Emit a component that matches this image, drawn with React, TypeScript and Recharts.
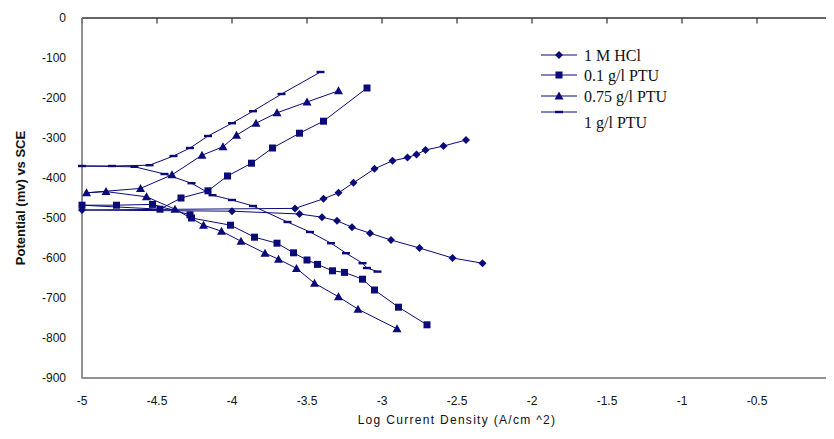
import React from "react";
import { LineChart, Line, XAxis, YAxis } from "recharts";

// Log current density (x) vs potential in mV (y)
const HCL_X = [-2.33, -2.53, -2.75, -2.94, -3.08, -3.2, -3.3, -3.4, -3.55, -4.0, -5.0, -3.58, -3.39, -3.29, -3.19, -3.05, -2.93, -2.83, -2.77, -2.71, -2.59, -2.44];
const HCL_Y = [-613, -600, -575, -555, -538, -523, -507, -498, -490, -483, -480, -476, -452, -437, -412, -377, -357, -349, -341, -330, -320, -305];

const PTU01_X = [-2.7, -2.89, -3.05, -3.13, -3.25, -3.33, -3.43, -3.5, -3.59, -3.7, -3.85, -4.01, -4.27, -4.28, -4.53, -4.77, -5.0, -4.48, -4.34, -4.16, -4.03, -3.87, -3.73, -3.55, -3.39, -3.1];
const PTU01_Y = [-767, -723, -680, -653, -636, -632, -616, -605, -587, -563, -548, -518, -500, -492, -466, -468, -468, -478, -450, -432, -395, -363, -325, -288, -258, -175];

const PTU075_X = [-2.9, -3.16, -3.29, -3.45, -3.57, -3.69, -3.78, -3.94, -4.07, -4.19, -4.38, -4.57, -4.84, -4.97, -4.61, -4.4, -4.2, -4.06, -3.97, -3.84, -3.7, -3.5, -3.29];
const PTU075_Y = [-777, -728, -697, -663, -626, -603, -588, -558, -533, -518, -478, -447, -434, -437, -426, -392, -343, -322, -293, -263, -237, -210, -182];

const PTU1_X = [-3.03, -3.1, -3.13, -3.24, -3.34, -3.48, -3.63, -3.86, -4.0, -4.13, -4.27, -4.45, -4.65, -5.0, -4.8, -4.55, -4.39, -4.28, -4.16, -4.0, -3.86, -3.67, -3.41];
const PTU1_Y = [-634, -625, -613, -588, -563, -535, -510, -470, -455, -443, -413, -390, -372, -370, -370, -368, -345, -325, -295, -263, -233, -190, -135];

const X_TICKS = [-5, -4.5, -4, -3.5, -3, -2.5, -2, -1.5, -1, -0.5, 0];
const Y_TICKS = [0, -100, -200, -300, -400, -500, -600, -700, -800, -900];
const X_MIN = -5;
const X_MAX = 0;
const Y_MIN = -900;
const Y_MAX = 0;

const NAMES = ["1 M HCl", "0.1 g/l PTU", "0.75 g/l PTU", "1 g/l PTU"];
const SHAPES = ["diamond", "square", "triangle", "dash"];

const NAVY = "#0a0a78";
const FRAME_DARK = "#333";
const FRAME_GREY = "#8a8a8a";

const pts = (xs: number[], ys: number[]) => xs.map((x, i) => ({ x, y: ys[i] }));
const hcl = pts(HCL_X, HCL_Y);
const ptu01 = pts(PTU01_X, PTU01_Y);
const ptu075 = pts(PTU075_X, PTU075_Y);
const ptu1 = pts(PTU1_X, PTU1_Y);

// plot frame and inward tick marks, built in data space from the axis ranges
const frameLeftBottom = [
  { x: X_MIN, y: Y_MAX },
  { x: X_MIN, y: Y_MIN },
  { x: X_MAX, y: Y_MIN },
];
const frameTopRight = [
  { x: X_MIN, y: Y_MAX },
  { x: X_MAX, y: Y_MAX },
  { x: X_MAX, y: Y_MIN },
];
const topTicks = X_TICKS.flatMap((t) => [
  { x: t, y: Y_MAX },
  { x: t, y: Y_MAX - 14 },
  { x: t, y: null },
]);
const rightTicks = Y_TICKS.flatMap((t) => [
  { x: X_MAX, y: t },
  { x: X_MAX - 0.035, y: t },
  { x: X_MAX - 0.035, y: null },
]);
const lastTick = [{ x: X_MAX, y: Y_MIN }];

function shapeEl(shape: string, cx: number, cy: number, key?: string | number) {
  if (shape === "diamond")
    return <polygon key={key} points={`${cx},${cy - 4} ${cx + 4},${cy} ${cx},${cy + 4} ${cx - 4},${cy}`} fill={NAVY} />;
  if (shape === "square") return <rect key={key} x={cx - 3.5} y={cy - 3.5} width={7} height={7} fill={NAVY} />;
  if (shape === "triangle")
    return <polygon key={key} points={`${cx},${cy - 4.5} ${cx + 4.5},${cy + 3.5} ${cx - 4.5},${cy + 3.5}`} fill={NAVY} />;
  return <rect key={key} x={cx - 4} y={cy - 1.2} width={8} height={2.4} fill={NAVY} />;
}

const dotFor = (shape: string) => (p: any) => shapeEl(shape, p.cx, p.cy, p.index);

// "0" at the right end of the x axis, placed like the other tick labels
const zeroLabel = (p: any) => (
  <text key="zero" x={p.cx} y={p.cy + 16} dy="0.71em" textAnchor="middle" fontSize={12} fill="#111">
    {X_MAX}
  </text>
);

// legend rows (page px): y of sample line, y of text (last label sits a bit low, as in the original)
const LEGEND_LINE_Y = [55, 75, 96, 112];
const LEGEND_TEXT_Y = [55, 75, 96, 122];

const tickFont = { fill: "#111", fontSize: 12 };

export default function App() {
  return (
    <div
      style={{
        display: "inline-block",
        position: "relative",
        width: 826,
        height: 431,
        fontFamily: "'Liberation Sans', Arial, sans-serif",
      }}
    >
      <div
        style={{
          position: "absolute",
          left: 74,
          top: 405,
          width: 750,
          textAlign: "center",
          fontSize: 12,
          letterSpacing: 1.3,
          color: "#111",
        }}
      >
        Log Current Density (A/cm ^2)
      </div>
      <div
        style={{
          position: "absolute",
          left: 12,
          top: 190,
          transform: "translate(-50%, -50%) rotate(-90deg)",
          whiteSpace: "nowrap",
          fontWeight: "bold",
          fontSize: 13,
          color: "#111",
        }}
      >
        Potential (mv) vs SCE
      </div>
      <svg width={200} height={100} style={{ position: "absolute", left: 533, top: 32 }}>
        {NAMES.map((n, i) => (
          <g key={n}>
            <line x1={0} x2={36} y1={LEGEND_LINE_Y[i] - 40} y2={LEGEND_LINE_Y[i] - 40} stroke={NAVY} strokeWidth={1.2} />
            {shapeEl(SHAPES[i], 18, LEGEND_LINE_Y[i] - 40)}
            <text
              x={43}
              y={LEGEND_TEXT_Y[i] - 40}
              dy="0.35em"
              fontFamily="'Liberation Serif', 'Times New Roman', serif"
              fontSize={16}
              fill="#111"
            >
              {n}
            </text>
          </g>
        ))}
      </svg>
      <LineChart width={826} height={431} margin={{ top: 10, right: 2, bottom: 31, left: 12 }}>
        <XAxis
          xAxisId="b"
          type="number"
          dataKey="x"
          domain={[X_MIN, X_MAX]}
          ticks={X_TICKS}
          interval={0}
          axisLine={{ stroke: FRAME_GREY, strokeWidth: 1.5 }}
          tickLine={false}
          tickSize={16}
          tick={tickFont}
          height={30}
        />
        <YAxis
          yAxisId="l"
          type="number"
          dataKey="y"
          domain={[Y_MIN, Y_MAX]}
          ticks={Y_TICKS}
          axisLine={{ stroke: FRAME_GREY, strokeWidth: 1.5 }}
          tickLine={false}
          tickSize={14}
          tick={tickFont}
          width={62}
        />
        <Line xAxisId="b" yAxisId="l" data={frameLeftBottom} dataKey="y" stroke={FRAME_GREY} strokeWidth={1.5} dot={false} activeDot={false} isAnimationActive={false} />
        <Line xAxisId="b" yAxisId="l" data={frameTopRight} dataKey="y" stroke={FRAME_DARK} strokeWidth={1.5} dot={false} activeDot={false} isAnimationActive={false} />
        <Line xAxisId="b" yAxisId="l" data={topTicks} dataKey="y" stroke={FRAME_DARK} strokeWidth={1.2} dot={false} activeDot={false} isAnimationActive={false} />
        <Line xAxisId="b" yAxisId="l" data={rightTicks} dataKey="y" stroke={FRAME_DARK} strokeWidth={1.2} dot={false} activeDot={false} isAnimationActive={false} />
        <Line xAxisId="b" yAxisId="l" data={lastTick} dataKey="y" stroke="none" dot={zeroLabel} activeDot={false} isAnimationActive={false} />
        <Line xAxisId="b" yAxisId="l" data={hcl} dataKey="y" stroke={NAVY} dot={dotFor("diamond")} isAnimationActive={false} />
        <Line xAxisId="b" yAxisId="l" data={ptu01} dataKey="y" stroke={NAVY} dot={dotFor("square")} isAnimationActive={false} />
        <Line xAxisId="b" yAxisId="l" data={ptu075} dataKey="y" stroke={NAVY} dot={dotFor("triangle")} isAnimationActive={false} />
        <Line xAxisId="b" yAxisId="l" data={ptu1} dataKey="y" stroke={NAVY} dot={dotFor("dash")} isAnimationActive={false} />
      </LineChart>
    </div>
  );
}
